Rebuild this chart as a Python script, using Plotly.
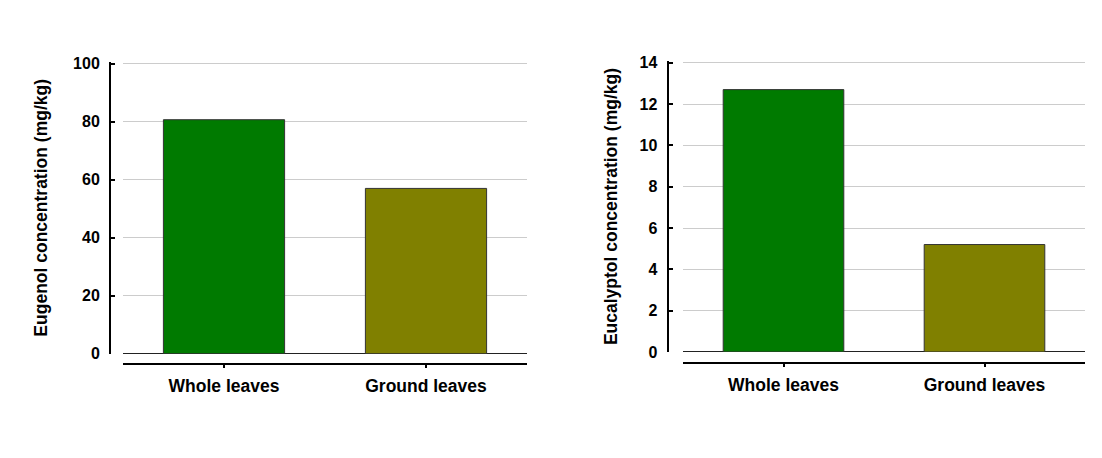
import plotly.graph_objects as go

# data
leaf_form = ["Whole leaves", "Ground leaves"]
eugenol = [80.7, 57.0]
eucalyptol = [12.7, 5.2]
bar_colours = ["#007a00", "#808000"]

W, H = 1102, 458
FONT = "Liberation Sans, Arial, sans-serif"


def px_x(p):
    return p / W


def px_y(p):
    # the photo comes out a little squeezed vertically, undo that here
    p = (p - 6.2) / 0.9655
    return 1 - p / H


def y_dom(zero_px, top_px, top_val, rng_top):
    # domain so that top_val sits at top_px while the range goes a hair higher
    hi = zero_px - (zero_px - top_px) * rng_top / top_val
    return [px_y(zero_px), px_y(hi)]


fig = go.Figure()

fig.add_trace(go.Bar(x=leaf_form, y=eugenol, marker_color=bar_colours,
                     marker_line=dict(color="#333333", width=1), width=0.6,
                     xaxis="x", yaxis="y", showlegend=False))
fig.add_trace(go.Bar(x=leaf_form, y=eucalyptol, marker_color=bar_colours,
                     marker_line=dict(color="#333333", width=1), width=0.6,
                     xaxis="x2", yaxis="y2", showlegend=False))


def y_axis(title, rng, dtick, dom, pos, standoff):
    return dict(
        title=dict(text="<b>" + title + "</b>", font=dict(family=FONT, size=17.5, color="black"), standoff=standoff),
        range=rng, dtick=dtick, domain=dom, anchor="free", position=pos,
        showline=True, linewidth=2, linecolor="black",
        ticks="inside", ticklen=4, tickwidth=2, tickcolor="black",
        tickfont=dict(family=FONT, size=16, color="black", weight="bold"),
        ticklabelstandoff=6,
        showgrid=True, gridcolor="#cccccc", gridwidth=1,
        zeroline=True, zerolinecolor="#222222", zerolinewidth=1,
    )


def x_axis(dom, pos):
    return dict(
        domain=dom, anchor="free", position=pos,
        showline=True, linewidth=2, linecolor="black",
        ticks="outside", ticklen=3, tickwidth=1.5, tickcolor="black",
        tickfont=dict(family=FONT, size=17.5, color="black", weight="bold"),
        ticklabelstandoff=3,
        showgrid=False, zeroline=False,
    )


fig.update_layout(
    width=W, height=H,
    margin=dict(l=0, r=0, t=0, b=0),
    paper_bgcolor="white", plot_bgcolor="white",
    font=dict(family=FONT, color="black"),
    bargap=0.4,
    xaxis=x_axis([px_x(123), px_x(527)], px_y(363.5)),
    yaxis=y_axis("Eugenol concentration (mg/kg)", [0, 100.6], 20,
                 y_dom(353, 63, 100, 100.6), px_x(110), 20),
    xaxis2=x_axis([px_x(683), px_x(1085)], px_y(362)),
    yaxis2=y_axis("Eucalyptol concentration (mg/kg)", [0, 14.08], 2,
                  y_dom(351.3, 62, 14, 14.08), px_x(667.5), 16),
)

fig.write_html("out.html", config={"displayModeBar": False},
               post_script="document.body.style.margin='0';")
